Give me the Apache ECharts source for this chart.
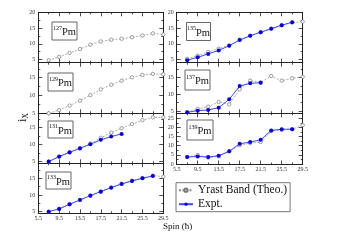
<!DOCTYPE html>
<html><head><meta charset="utf-8">
<script src="https://cdn.jsdelivr.net/npm/echarts@6/dist/echarts.min.js"></script>
<style>html,body{margin:0;padding:0;background:#fff}#c{width:347px;height:246px}</style>
</head><body><div id="c"></div>
<script>
// ---------- data ----------
const spins = [7.5, 9.5, 11.5, 13.5, 15.5, 17.5, 19.5, 21.5, 23.5, 25.5, 27.5, 29.5];
const xTickLabels = ['5.5', '9.5', '13.5', '17.5', '21.5', '25.5', '29.5'];
const xMinorTicks = [7.5, 11.5, 15.5, 19.5, 23.5, 27.5];
const yTickLabels = [0, 5, 10, 15, 20, 25];
const yMinorTicks = [2.5, 7.5, 12.5, 17.5, 22.5];
const isotopes = ['127', '129', '131', '133', '135', '137', '139'];

const theo127 = [4.8, 5.85, 7.1, 8.35, 9.7, 10.75, 11.3, 11.6, 12.1, 12.65, 13.3, 12.95];
const theo129 = [5.0, 5.9, 7.15, 8.55, 10.1, 11.7, 13.0, 14.15, 15.1, 15.75, 16.05, 15.95];
const theo131 = [5.0, 6.4, 7.6, 8.8, 10.3, 12.0, 13.5, 14.8, 16.0, 17.2, 18.0, 18.0];
const expt131 = [5.0, 6.5, 7.75, 8.9, 10.1, 11.4, 12.35, 13.15];
const theo133 = [5.0, 5.9, 7.2, 8.5, 9.9, 11.1, 12.3, 13.4, 14.3, 15.1, 15.8, 15.5];
const expt133 = [5.0, 5.8, 7.2, 8.5, 9.8, 11.0, 12.2, 13.3, 14.2, 15.0, 15.7];
const theo135 = [5.2, 6.25, 7.4, 8.45, 9.5, 11.3, 12.55, 13.7, 14.85, 15.9, 16.75, 17.05];
const expt135 = [4.8, 5.7, 6.8, 7.9, 9.4, 11.2, 12.55, 13.7, 14.75, 15.9, 16.85];
const theo137 = [4.6, 5.6, 6.3, 7.7, 7.0, 11.5, 14.1, 13.6, 15.5, 14.1, 14.8, 15.3];
const expt137 = [4.6, 5.1, 5.3, 6.0, 8.5, 12.5, 13.3, 13.5];
const theo139 = [3.8, 4.9, 3.4, 4.2, 6.9, 10.3, 11.4, 12.0, 18.0, 18.6, 19.0, 21.2];
const expt139 = [3.8, 4.1, 3.8, 4.5, 6.9, 11.0, 12.0, 13.2, 18.3, 19.0, 19.0];

const theoName = 'Yrast Band (Theo.)';
const exptName = 'Expt.';
const yLabelText = ['i', 'X'];
const xLabelText = 'Spin (ħ)';

// ---------- layout ----------
const panels = [
  { theo: theo127, expt: null,    left: 38.3,  top: 12.3,  w: 125, h: 50.4, ymin: 4,    ymax: 20,   xl: false, box: [52, 22, 25, 18] },
  { theo: theo129, expt: null,    left: 38.3,  top: 62.7,  w: 125, h: 50.6, ymin: 5,    ymax: 19.2, xl: false, box: [48, 73, 25, 18] },
  { theo: theo131, expt: expt131, left: 38.3,  top: 113.3, w: 125, h: 50,   ymin: 4.5,  ymax: 19.2, xl: false, box: [48, 121, 25, 17] },
  { theo: theo133, expt: expt133, left: 38.3,  top: 163.3, w: 125, h: 50,   ymin: 4.5,  ymax: 19.5, xl: true,  box: [46, 172, 25, 17] },
  { theo: theo135, expt: expt135, left: 176.7, top: 12.3,  w: 126, h: 50.4, ymin: 4,    ymax: 20,   xl: false, box: [186.5, 22.5, 24, 18] },
  { theo: theo137, expt: expt137, left: 176.7, top: 62.7,  w: 126, h: 50.6, ymin: 4.3,  ymax: 19.5, xl: false, box: [185, 70, 25, 20] },
  { theo: theo139, expt: expt139, left: 176.7, top: 113.3, w: 126, h: 51.2, ymin: -0.3, ymax: 27.7, xl: true,  box: [187, 120, 26, 20] }
];

const FONT = 'Liberation Serif';
const AX = '#222';
const grids = [], xAxes = [], yAxes = [], series = [], graphics = [];
const xMajor = xTickLabels.map(Number);

function inRange(vals, a, b) { return vals.filter(v => v >= a - 1e-6 && v <= b + 1e-6); }

panels.forEach((p, i) => {
  grids.push({ left: p.left, top: p.top, width: p.w, height: p.h, show: false });
  const xi = xAxes.length, yi = yAxes.length;
  const mkX = (pos, vals, len, line, labels) => ({
    type: 'value', gridIndex: i, min: 5.5, max: 29.5, position: pos, splitLine: { show: false },
    axisLine: { show: line, onZero: false, lineStyle: { color: AX, width: 1 } },
    axisTick: { show: true, inside: true, length: len, customValues: vals, lineStyle: { color: AX, width: 0.8 } },
    axisLabel: labels ? { show: true, customValues: labels, margin: 2, fontSize: 6, fontFamily: FONT, color: '#333',
      showMinLabel: true, showMaxLabel: true, formatter: v => Number(v).toFixed(1) } : { show: false }
  });
  xAxes.push(mkX('bottom', xMajor, 4, true, p.xl ? xMajor : null));
  xAxes.push(mkX('bottom', xMinorTicks, 2, false, null));
  xAxes.push(mkX('top', xMajor, 4, true, null));
  xAxes.push(mkX('top', xMinorTicks, 2, false, null));
  const yMaj = inRange(yTickLabels, p.ymin, p.ymax);
  const yMin = inRange(yMinorTicks, p.ymin, p.ymax);
  const mkY = (pos, vals, len, line, labels) => ({
    type: 'value', gridIndex: i, min: p.ymin, max: p.ymax, position: pos, splitLine: { show: false },
    axisLine: { show: line, onZero: false, lineStyle: { color: AX, width: 1 } },
    axisTick: { show: true, inside: true, length: len, customValues: vals, lineStyle: { color: AX, width: 0.8 } },
    axisLabel: labels ? { show: true, customValues: labels, margin: 3, fontSize: 6, fontFamily: FONT, color: '#333',
      showMinLabel: true, showMaxLabel: true, formatter: v => String(v) } : { show: false }
  });
  yAxes.push(mkY('left', yMaj, 4, true, yMaj));
  yAxes.push(mkY('left', yMin, 2, false, null));
  yAxes.push(mkY('right', yMaj, 4, true, null));
  yAxes.push(mkY('right', yMin, 2, false, null));

  series.push({
    name: theoName, type: 'line', xAxisIndex: xi, yAxisIndex: yi,
    data: p.theo.map((v, k) => [spins[k], v]),
    symbol: 'circle', symbolSize: 3.4, showSymbol: true,
    lineStyle: { color: '#888', width: 0.7, type: [2, 1.5] },
    itemStyle: { color: '#fff', borderColor: '#777', borderWidth: 0.7 },
    emphasis: { disabled: true }, z: 2
  });
  if (p.expt) {
    series.push({
      name: exptName, type: 'line', xAxisIndex: xi, yAxisIndex: yi,
      data: p.expt.map((v, k) => [spins[k], v]),
      symbol: 'circle', symbolSize: 4, showSymbol: true,
      lineStyle: { color: '#4545ff', width: 1 },
      itemStyle: { color: '#0000ee', borderColor: '#0000ee', borderWidth: 0 },
      emphasis: { disabled: true }, z: 3
    });
  }
  const b = p.box;
  graphics.push({ type: 'rect', shape: { x: b[0], y: b[1], width: b[2], height: b[3] },
    style: { fill: 'rgba(255,255,255,0)', stroke: '#666', lineWidth: 1 }, z: 10 });
  graphics.push({ type: 'text', x: b[0] + b[2] / 2, y: b[1] + b[3] / 2 + 0.5, z: 11,
    style: { text: '{s|' + isotopes[i] + '}{p|Pm}', align: 'center', verticalAlign: 'middle',
      rich: { s: { fontSize: 6, fontFamily: FONT, lineHeight: 13, verticalAlign: 'top', fill: '#111' },
              p: { fontSize: 10.5, fontFamily: FONT, lineHeight: 13, verticalAlign: 'bottom', fill: '#111' } } } });
});

graphics.push({ type: 'text', x: 23, y: 117.5, rotation: Math.PI / 2, z: 11,
  style: { text: '{a|' + yLabelText[0] + '}{b|' + yLabelText[1] + '}', align: 'center', verticalAlign: 'middle',
    rich: { a: { fontSize: 12, fontFamily: FONT, lineHeight: 14, verticalAlign: 'middle', fill: '#111' },
            b: { fontSize: 8, fontFamily: FONT, lineHeight: 14, verticalAlign: 'bottom', fill: '#111' } } } });
graphics.push({ type: 'text', x: 163, y: 227, z: 11,
  style: { text: xLabelText, align: 'left', verticalAlign: 'middle', fontSize: 9, fontFamily: FONT, fill: '#111' } });

const chart = echarts.init(document.getElementById('c'), null, { renderer: 'canvas' });
chart.setOption({
  animation: false,
  backgroundColor: '#fff',
  grid: grids, xAxis: xAxes, yAxis: yAxes, series: series, graphic: graphics,
  legend: {
    data: [theoName, exptName], orient: 'vertical', left: 176, top: 182.7,
    itemWidth: 14, itemHeight: 4, itemGap: 1, padding: [1, 3, 1, 2],
    borderColor: '#777', borderWidth: 1, backgroundColor: '#fff',
    selectedMode: false,
    textStyle: { fontFamily: FONT, fontSize: 11.5, color: '#111', lineHeight: 13 }
  }
});
</script></body></html>
